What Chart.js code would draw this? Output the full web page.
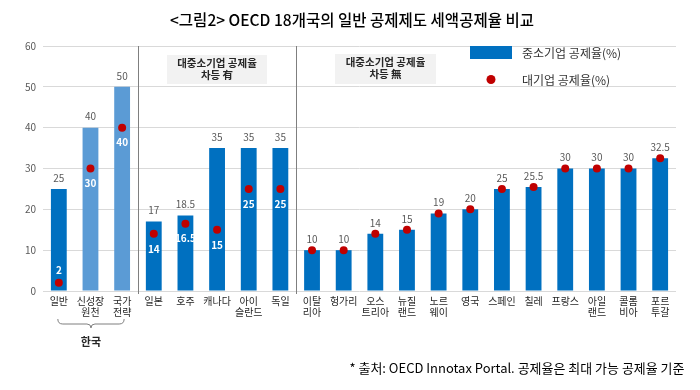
<!DOCTYPE html>
<html>
<head>
<meta charset="utf-8">
<script src="https://cdn.jsdelivr.net/npm/chart.js@4.4.0/dist/chart.umd.min.js"></script>
<style>
  html, body { margin: 0; padding: 0; background: #fff; }
  canvas { display: block; }
</style>
</head>
<body>
<canvas id="canvasChart" width="700" height="390"></canvas>
<script>
var categories = [
  ["일반"], ["신성장", "원천"], ["국가", "전략"],
  ["일본"], ["호주"], ["캐나다"], ["아이", "슬란드"], ["독일"],
  ["이탈", "리아"], ["헝가리"], ["오스", "트리아"], ["뉴질", "랜드"], ["노르", "웨이"],
  ["영국"], ["스페인"], ["칠레"], ["프랑스"], ["아일", "랜드"], ["콜롬", "비아"], ["포르", "투갈"]
];
var smeRates = [25, 40, 50, 17, 18.5, 35, 35, 35, 10, 10, 14, 15, 19, 20, 25, 25.5, 30, 30, 30, 32.5];
var largeRates = [2, 30, 40, 14, 16.5, 15, 25, 25, 10, 10, 14, 15, 19, 20, 25, 25.5, 30, 30, 30, 32.5];
var yTicks = [0, 10, 20, 30, 40, 50, 60];
var seriesNames = ["중소기업 공제율(%)", "대기업 공제율(%)"];
var groupNotes = [["대중소기업 공제율", "차등 有"], ["대중소기업 공제율", "차등 無"]];
var koreaLabel = "한국";
var titleText = "<그림2> OECD 18개국의 일반 공제제도 세액공제율 비교";
var sourceText = "* 출처: OECD Innotax Portal. 공제율은 최대 가능 공제율 기준";

var FONT = "'Noto Sans CJK KR', 'Noto Sans', sans-serif";
var darkBlue = "#0070C0";
var lightBlue = "#5B9BD5";
var red = "#C00000";

// korean sub-programs get the lighter blue, except the general one
var barColors = smeRates.map(function(v, i) {
  return (i == 1 || i == 2) ? lightBlue : darkBlue;
});

// draw text squeezed into a given width (the original uses a condensed font)
function squeezeText(ctx, text, cx, cy, font, width, color) {
  ctx.save();
  ctx.font = font;
  ctx.fillStyle = color;
  ctx.textAlign = "center";
  ctx.textBaseline = "middle";
  var w = ctx.measureText(text).width;
  ctx.translate(cx, cy);
  ctx.scale(Math.min(1, width / w), 1);
  ctx.fillText(text, 0, 0);
  ctx.restore();
}

var decorPlugin = {
  id: "decor",
  afterDatasetsDraw: function(chart) {
    var ctx = chart.ctx;
    var x = chart.scales.x, y = chart.scales.y;
    ctx.save();
    ctx.textAlign = "center";
    ctx.textBaseline = "middle";
    for (var i = 0; i < smeRates.length; i++) {
      var px = x.getPixelForValue(i);
      ctx.font = "10px " + FONT;
      ctx.fillStyle = "#595959";
      ctx.fillText(String(smeRates[i]), px, y.getPixelForValue(smeRates[i]) - 11);
      if (largeRates[i] != smeRates[i]) {
        var dy = y.getPixelForValue(largeRates[i]);
        // not enough room under the dot -> put the label above it
        var ly = (dy + 15 > chart.chartArea.bottom - 6) ? dy - 13 : dy + 15;
        ctx.font = "bold 10px " + FONT;
        ctx.fillStyle = "#ffffff";
        ctx.fillText(String(largeRates[i]), px, ly);
      }
    }
    ctx.restore();
  },
  afterDraw: function(chart) {
    var ctx = chart.ctx;
    var x = chart.scales.x, area = chart.chartArea;
    ctx.save();

    // group separators
    ctx.strokeStyle = "#7F7F7F";
    ctx.lineWidth = 1;
    [2, 7].forEach(function(i) {
      var sx = Math.round((x.getPixelForValue(i) + x.getPixelForValue(i + 1)) / 2) + 0.5;
      ctx.beginPath();
      ctx.moveTo(sx, area.top);
      ctx.lineTo(sx, area.bottom + 3);
      ctx.stroke();
    });

    // group note boxes
    var boxes = [[167, 55, 100, 29], [335, 54, 101, 30]];
    boxes.forEach(function(b, k) {
      ctx.fillStyle = "#F2F2F2";
      ctx.fillRect(b[0], b[1], b[2], b[3]);
      ctx.fillStyle = "#262626";
      ctx.font = "bold 10.5px " + FONT;
      ctx.textAlign = "center";
      ctx.textBaseline = "middle";
      ctx.fillText(groupNotes[k][0], b[0] + b[2] / 2, b[1] + 8);
      ctx.fillText(groupNotes[k][1], b[0] + b[2] / 2, b[1] + 20);
    });

    // legend
    ctx.fillStyle = darkBlue;
    ctx.fillRect(470, 46, 42, 13);
    ctx.fillStyle = red;
    ctx.beginPath();
    ctx.arc(491, 79.5, 4.5, 0, Math.PI * 2);
    ctx.fill();
    ctx.fillStyle = "#333333";
    ctx.font = "12px " + FONT;
    ctx.textAlign = "left";
    ctx.textBaseline = "middle";
    ctx.fillText(seriesNames[0], 522, 53);
    ctx.fillText(seriesNames[1], 522, 80);

    // brace under korea
    var x0 = x.getPixelForValue(0) - 1, x2 = x.getPixelForValue(2) + 2;
    var xm = (x0 + x2) / 2;
    ctx.strokeStyle = "#7F7F7F";
    ctx.lineWidth = 1;
    ctx.beginPath();
    ctx.moveTo(x0, 319);
    ctx.quadraticCurveTo(x0, 324, x0 + 5, 324);
    ctx.lineTo(xm - 4, 324);
    ctx.quadraticCurveTo(xm, 324, xm, 328);
    ctx.quadraticCurveTo(xm, 324, xm + 4, 324);
    ctx.lineTo(x2 - 5, 324);
    ctx.quadraticCurveTo(x2, 324, x2, 319);
    ctx.stroke();
    ctx.fillStyle = "#262626";
    ctx.font = "bold 11px " + FONT;
    ctx.textAlign = "center";
    ctx.fillText(koreaLabel, xm, 342);

    // title and source note
    squeezeText(ctx, titleText, 352, 20, "500 16px " + FONT, 364, "#000000");
    squeezeText(ctx, sourceText, 517, 368, "13px " + FONT, 335, "#000000");
    ctx.restore();
  }
};

var ctx = document.getElementById("canvasChart");
var chart = new Chart(ctx, {
  type: "bar",
  data: {
    labels: categories,
    datasets: [{
      type: "line",
      label: seriesNames[1],
      data: largeRates,
      showLine: false,
      pointRadius: 4,
      pointHoverRadius: 4,
      pointBackgroundColor: red,
      pointBorderWidth: 0,
      borderColor: red,
      order: 0
    }, {
      label: seriesNames[0],
      data: smeRates,
      backgroundColor: barColors,
      borderWidth: 0,
      barPercentage: 0.5,
      categoryPercentage: 1,
      order: 1
    }]
  },
  options: {
    responsive: false,
    animation: false,
    layout: { padding: { top: 46, left: 0, right: 24, bottom: 0 } },
    plugins: {
      legend: { display: false },
      tooltip: { enabled: false }
    },
    scales: {
      x: {
        grid: { display: false, drawTicks: false },
        border: { display: false },
        ticks: {
          color: "#262626",
          padding: 4,
          maxRotation: 0,
          autoSkip: false,
          font: { family: FONT, size: 10, lineHeight: 1.15 }
        },
        afterFit: function(s) { s.height = 99; }
      },
      y: {
        min: 0,
        max: 60,
        afterBuildTicks: function(s) { s.ticks = yTicks.map(function(v) { return { value: v }; }); },
        grid: { color: "#D9D9D9", drawTicks: false },
        border: { display: false },
        ticks: {
          color: "#595959",
          padding: 7,
          font: { family: FONT, size: 10 }
        },
        afterFit: function(s) { s.width = 43; }
      }
    }
  },
  plugins: [decorPlugin]
});
</script>
</body>
</html>
